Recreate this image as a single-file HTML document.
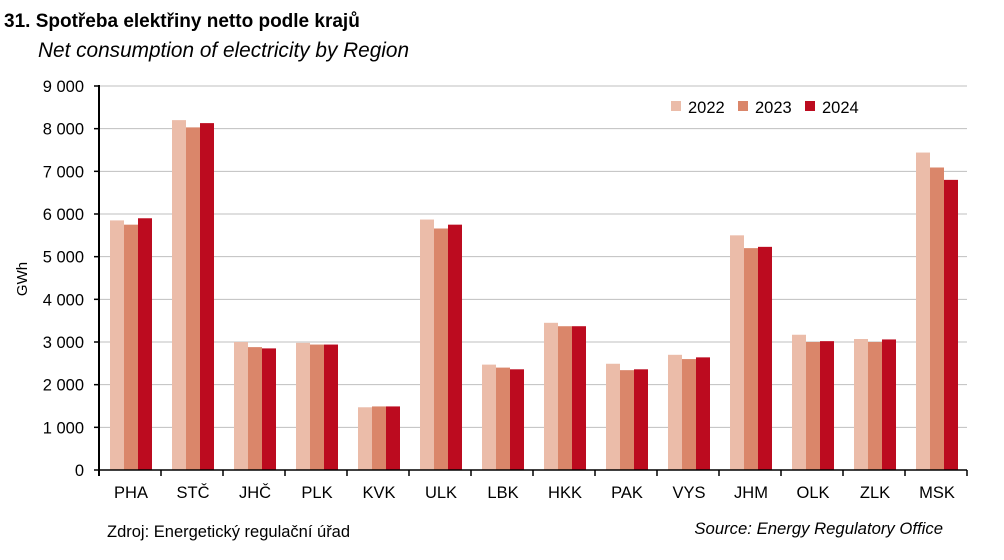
<!DOCTYPE html>
<html><head><meta charset="utf-8"><style>
body{margin:0;background:#fff;}
svg text{font-family:"Liberation Sans",sans-serif;fill:#000;}
</style></head><body>
<svg id="s" width="1004" height="555" xmlns="http://www.w3.org/2000/svg">
<text x="4" y="27" font-size="19" font-weight="bold">31. Spotřeba elektřiny netto podle krajů</text>
<text x="38" y="57" font-size="20.8" font-style="italic">Net consumption of electricity by Region</text>
<text transform="translate(27,279) rotate(-90)" font-size="15" text-anchor="middle">GWh</text>
<text x="107" y="537" font-size="16.5">Zdroj:  Energetický regulační úřad</text>
<text x="943" y="534" font-size="16.7" font-style="italic" text-anchor="end">Source: Energy Regulatory Office</text>
<rect x="671" y="101" width="10" height="10" fill="#EBBCA9"/><text x="688" y="113" font-size="16.5">2022</text>
<rect x="738" y="101" width="10" height="10" fill="#DA866A"/><text x="755" y="113" font-size="16.5">2023</text>
<rect x="805" y="101" width="10" height="10" fill="#BC0B1F"/><text x="822" y="113" font-size="16.5">2024</text>
<g id="g"></g>
</svg>
<script>
var g=document.getElementById('g'),h='';
var Y=function(v){return 470-v*0.042667;};
for(var i=0;i<=9;i++){var y=Y(i*1000);
 if(i>0)h+='<line x1="100" x2="967" y1="'+y+'" y2="'+y+'" stroke="#bfbfbf" stroke-width="1"/>';
 h+='<line x1="94" x2="100" y1="'+y+'" y2="'+y+'" stroke="#000" stroke-width="1.5"/>';
 h+='<text x="84" y="'+(y+6)+'" font-size="16.5" text-anchor="end">'+(i==0?'0':i+' 000')+'</text>';}
var d=[["PHA",5850,5750,5900],["STČ",8200,8030,8130],["JHČ",3000,2880,2850],["PLK",2980,2940,2940],["KVK",1470,1490,1490],["ULK",5870,5660,5750],["LBK",2470,2400,2360],["HKK",3450,3370,3370],["PAK",2490,2340,2360],["VYS",2700,2600,2640],["JHM",5500,5200,5230],["OLK",3170,3000,3020],["ZLK",3070,3000,3060],["MSK",7440,7090,6800]];
var c=["#EBBCA9","#DA866A","#BC0B1F"];
d.forEach(function(r,i){var x0=110+62*i;
 for(var k=0;k<3;k++){var y=Y(r[k+1]);h+='<rect x="'+(x0+k*14)+'" y="'+y+'" width="14" height="'+(470-y)+'" fill="'+c[k]+'"/>';}
 h+='<line x1="'+(99+62*(i+1))+'" x2="'+(99+62*(i+1))+'" y1="470" y2="476" stroke="#000" stroke-width="1.5"/>';
 h+='<text x="'+(x0+21)+'" y="498" font-size="16.5" text-anchor="middle">'+r[0]+'</text>';});
h+='<line x1="99" x2="967" y1="470" y2="470" stroke="#000" stroke-width="1.5"/>';
h+='<line x1="99" x2="99" y1="85" y2="476" stroke="#000" stroke-width="2"/>';
g.innerHTML=h;
</script>
</body></html>
